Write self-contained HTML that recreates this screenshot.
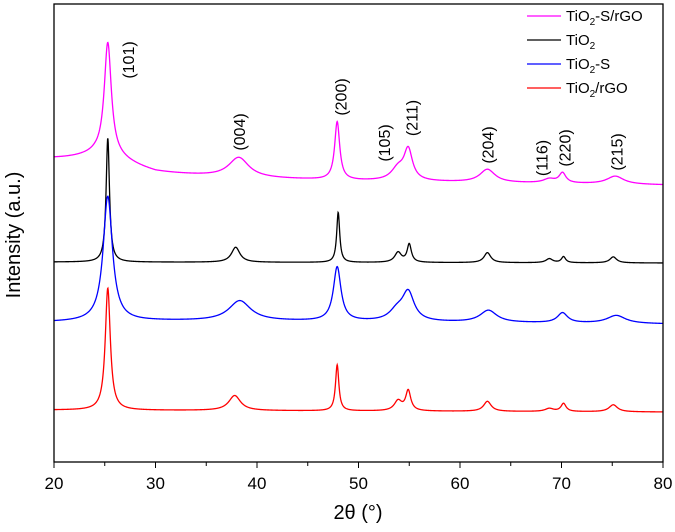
<!DOCTYPE html>
<html><head><meta charset="utf-8"><style>
html,body{margin:0;padding:0;background:#fff;}
svg text{font-family:"Liberation Sans",sans-serif;}
</style></head><body>
<svg id="chart" width="675" height="527" viewBox="0 0 675 527" xmlns="http://www.w3.org/2000/svg">
<g id="series"></g>
<rect x="54" y="4" width="609" height="458" fill="none" stroke="#000" stroke-width="1.3"/>
<g id="xticks"></g>
<text x="358" y="519" font-size="20" text-anchor="middle">2θ (°)</text>
<text transform="translate(20,235) rotate(-90)" font-size="20" text-anchor="middle">Intensity (a.u.)</text>
<g id="labels" font-size="16"></g>
<g id="legend" font-size="15">
<line x1="527" y1="16" x2="561" y2="16" stroke="#ff00ff" stroke-width="1.3"/>
<text x="566" y="21">TiO<tspan font-size="10" dy="4">2</tspan><tspan dy="-4">-S/rGO</tspan></text>
<line x1="527" y1="40" x2="561" y2="40" stroke="#000" stroke-width="1.3"/>
<text x="566" y="45">TiO<tspan font-size="10" dy="4">2</tspan></text>
<line x1="527" y1="64" x2="561" y2="64" stroke="#0000ff" stroke-width="1.3"/>
<text x="566" y="69">TiO<tspan font-size="10" dy="4">2</tspan><tspan dy="-4">-S</tspan></text>
<line x1="527" y1="88" x2="561" y2="88" stroke="#ff0000" stroke-width="1.3"/>
<text x="566" y="93">TiO<tspan font-size="10" dy="4">2</tspan><tspan dy="-4">/rGO</tspan></text>
</g>
</svg>
<script>
// x ticks
const xTicks=[20,30,40,50,60,70,80];
// Baselines: [2θ, intensity] pairs (intensity in arbitrary units, 0 = axis bottom)
const magBase=[[20,302],[24,300],[30,288],[38,284],[50,281],[80,277]];
const blkBase=[[20,200],[80,199]];
const bluBase=[[20,140],[30,141],[40,141],[80,138]];
const redBase=[[20,52],[80,50]];
// Peaks: [center 2θ, height, half-width]
const magPeaks=[[25.3,112,0.42],[25.3,10,3],[38.2,20,1.2],[47.9,58,0.3],[53.9,12,0.8],[54.9,30,0.5],[62.7,13,0.9],[68.8,4,0.7],[70.1,10,0.4],[75.3,8,1.0]];
const blkPeaks=[[25.3,124,0.2],[37.9,15,0.5],[48.0,50,0.18],[53.9,10,0.4],[55.0,18,0.25],[62.7,10,0.4],[68.8,4,0.4],[70.2,6,0.25],[75.1,6,0.4]];
const bluPeaks=[[25.3,125,0.55],[38.3,20,1.3],[47.9,54,0.45],[53.8,10,0.9],[54.9,28,0.7],[62.8,12,1.0],[70.1,10,0.6],[75.4,8,1.1]];
const redPeaks=[[25.3,122,0.3],[37.8,15,0.7],[47.9,46,0.2],[53.9,10,0.45],[54.9,20,0.3],[62.7,10,0.45],[68.8,3,0.5],[70.2,8,0.3],[75.1,7,0.5]];
const peakLabels=["(101)","(004)","(200)","(105)","(211)","(204)","(116)","(220)","(215)"];
const peakLabelX=[27.9,38.8,48.8,53.1,55.8,63.3,68.6,70.9,76.0];
const peakLabelY=[402,330,365,319,344,317,304,314,310];

const X0=54,X1=663,Y0=462;
function xs(v){return X0+(v-20)/60*(X1-X0);}
function ys(v){return Y0-v;}
function interp(base,x){for(let i=0;i<base.length-1;i++){if(x<=base[i+1][0]){const t=(x-base[i][0])/(base[i+1][0]-base[i][0]);return base[i][1]+t*(base[i+1][1]-base[i][1]);}}return base[base.length-1][1];}
function val(base,peaks,x){let y=interp(base,x);for(const p of peaks){const d=(x-p[0])/p[2];y+=p[1]/(1+d*d);}return y;}
const ns="http://www.w3.org/2000/svg";
const sg=document.getElementById('series');
const defs=[[magBase,magPeaks,'#ff00ff','series-tio2-s-rgo'],[blkBase,blkPeaks,'#000000','series-tio2'],[bluBase,bluPeaks,'#0000ff','series-tio2-s'],[redBase,redPeaks,'#ff0000','series-tio2-rgo']];
for(const d of defs){let s='';for(let x=20;x<=80.001;x+=0.03){s+=(s?'L':'M')+xs(x).toFixed(2)+','+ys(val(d[0],d[1],x)).toFixed(2);}
const p=document.createElementNS(ns,'path');p.setAttribute('d',s);p.setAttribute('fill','none');p.setAttribute('stroke',d[2]);p.setAttribute('stroke-width','1.3');


sg.appendChild(p);}
const xt=document.getElementById('xticks');
for(let v=20;v<=80;v+=5){const l=document.createElementNS(ns,'line');l.setAttribute('x1',xs(v));l.setAttribute('x2',xs(v));l.setAttribute('y1',Y0);l.setAttribute('y2',Y0+(v%10===0?6:4));l.setAttribute('stroke','#000');


xt.appendChild(l);}
for(const v of xTicks){const t=document.createElementNS(ns,'text');t.setAttribute('x',xs(v));t.setAttribute('y',Y0+27);t.setAttribute('font-size','17');t.setAttribute('text-anchor','middle');t.textContent=v;


xt.appendChild(t);}
const lg=document.getElementById('labels');
peakLabels.forEach((s,i)=>{const t=document.createElementNS(ns,'text');const x=xs(peakLabelX[i]),y=ys(peakLabelY[i]);t.setAttribute('transform','translate('+x+','+y+') rotate(-90)');t.setAttribute('text-anchor','middle');t.textContent=s;


lg.appendChild(t);});
</script>
</body></html>
